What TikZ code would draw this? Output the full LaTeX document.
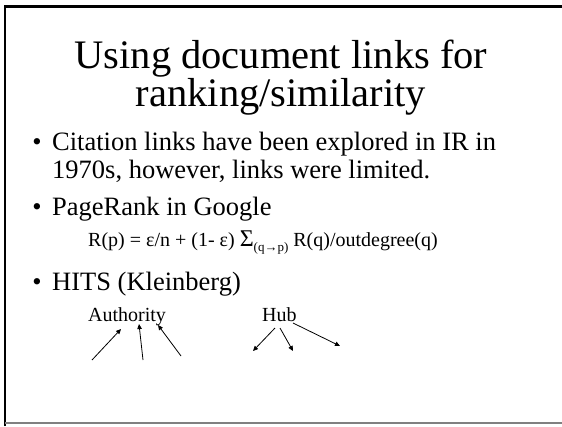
\documentclass[tikz,border=0pt]{standalone}
\usepackage{fontspec}
\setmainfont{Liberation Serif}
\usetikzlibrary{arrows.meta}

\begin{document}
\begin{tikzpicture}[x=1pt, y=-1pt,
  title/.style={anchor=north, align=center, font=\fontsize{40.5}{36}\selectfont, inner sep=0pt},
  item/.style={anchor=base west, font=\fontsize{26.5}{26.5}\selectfont, inner sep=0pt},
  subitem/.style={anchor=base west, font=\fontsize{20}{20}\selectfont, inner sep=0pt},
  dot/.style={anchor=base, font=\fontsize{26.5}{26.5}\selectfont, inner sep=0pt},
  link/.style={-{Triangle[length=5pt,width=4.5pt]}, line width=0.8pt},
]
\useasboundingbox (0,0) rectangle (562,426);

% slide frame
\draw[line width=2.5pt] (5,426) -- (5,6.5) -- (562,6.5);
\draw[gray, line width=1.5pt] (5,423) -- (562,423);

% title
\node[title] (title) at (281,40) {Using document links for\\ranking/similarity};

% bullets
\node[dot] (b1) at (37,150) {\textbullet};
\node[item] (cite1) at (52,150) {Citation links have been explored in IR in};
\node[item] (cite2) at (52,178) {1970s, however, links were limited.};

\node[dot] (b2) at (37,215) {\textbullet};
\node[item] (pr) at (52,215) {PageRank in Google};
\node[subitem] (formula) at (88,246) {R(p) = ε/n + (1- ε)
  {\fontsize{24}{24}\selectfont Σ}{\fontsize{13}{13}\selectfont\raisebox{-5pt}{(q→p)}}
  R(q)/outdegree(q)};

\node[dot] (b3) at (37,290) {\textbullet};
\node[item] (hits) at (52,290) {HITS (Kleinberg)};
\node[subitem] (auth) at (88,321) {Authority};
\node[subitem] (hub) at (262,321) {Hub};

% links into the authority
\coordinate (a1) at (92,360);
\coordinate (a2) at (143,360);
\coordinate (a3) at (181,356);
\coordinate (a1t) at (121,329);
\coordinate (a2t) at (139,324);
\coordinate (a3t) at (158,325);
\draw[link] (a1) -- (a1t);
\draw[link] (a2) -- (a2t);
\draw[link] (a3) -- (a3t);

% links out of the hub
\coordinate (h1) at (275,328);
\coordinate (h2) at (280,328);
\coordinate (h3) at (293,323);
\coordinate (h1t) at (253,351);
\coordinate (h2t) at (293,351);
\coordinate (h3t) at (340,346);
\draw[link] (h1) -- (h1t);
\draw[link] (h2) -- (h2t);
\draw[link] (h3) -- (h3t);
\end{tikzpicture}
\end{document}
